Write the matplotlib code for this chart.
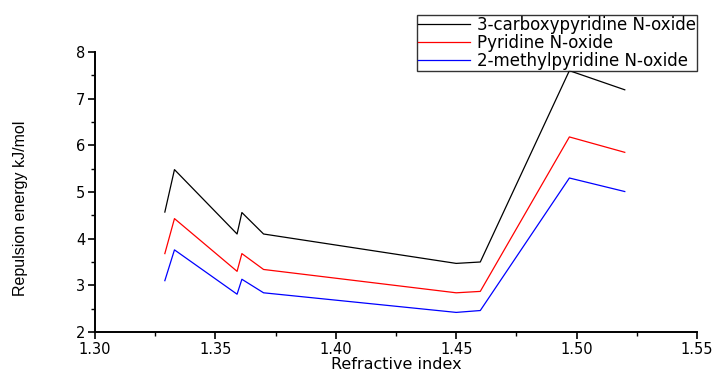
import matplotlib
matplotlib.use("Agg")
import matplotlib.pyplot as plt
from matplotlib.ticker import MultipleLocator

# refractive index of the solvents
refractive_index = [1.329, 1.333, 1.359, 1.361, 1.370, 1.450, 1.460, 1.497, 1.520]

# repulsion energy, kJ/mol
carboxy = [4.57, 5.48, 4.10, 4.56, 4.10, 3.47, 3.50, 7.60, 7.19]
pyridine = [3.68, 4.43, 3.30, 3.68, 3.34, 2.84, 2.87, 6.18, 5.85]
methyl = [3.10, 3.76, 2.81, 3.13, 2.84, 2.42, 2.46, 5.30, 5.01]

labels = ["3-carboxypyridine N-oxide", "Pyridine N-oxide", "2-methylpyridine N-oxide"]
colors = ["black", "red", "blue"]

fig = plt.figure(figsize=(7.26, 3.72), dpi=100, facecolor="white")
ax = fig.add_axes([95 / 726, 40 / 372, 602 / 726, 280 / 372])

for ys, lab, c in zip([carboxy, pyridine, methyl], labels, colors):
    ax.plot(refractive_index, ys, color=c, linewidth=0.9, label=lab)

ax.set_xlim(1.30, 1.55)
ax.set_ylim(2, 8)
ax.xaxis.set_major_locator(MultipleLocator(0.05))
ax.xaxis.set_minor_locator(MultipleLocator(0.025))
ax.yaxis.set_major_locator(MultipleLocator(1))
ax.yaxis.set_minor_locator(MultipleLocator(0.5))
ax.xaxis.set_major_formatter(plt.FuncFormatter(lambda v, p: f"{v:.2f}"))

for side in ("top", "right"):
    ax.spines[side].set_visible(False)
for side in ("left", "bottom"):
    ax.spines[side].set_linewidth(1.4)
ax.tick_params(which="major", direction="out", length=5, width=1.2,
               labelsize=10.5, pad=2)
ax.tick_params(which="minor", direction="out", length=3, width=1.0)

ax.set_xlabel("Refractive index", fontsize=11.5, labelpad=0)
ax.set_ylabel("Repulsion energy kJ/mol", family="Liberation Sans", fontsize=11.5)
ax.yaxis.set_label_coords(-0.112, 0.44)

leg = fig.legend(loc="upper left", bbox_to_anchor=(417 / 726, 1 - 15 / 372),
                 fontsize=12, frameon=True, fancybox=False,
                 borderpad=0.05, labelspacing=0.0, handlelength=3.1,
                 handletextpad=0.45, borderaxespad=0)
leg.get_frame().set_edgecolor("black")
leg.get_frame().set_linewidth(1.0)

fig.savefig("out.png", dpi=100, facecolor="white")
